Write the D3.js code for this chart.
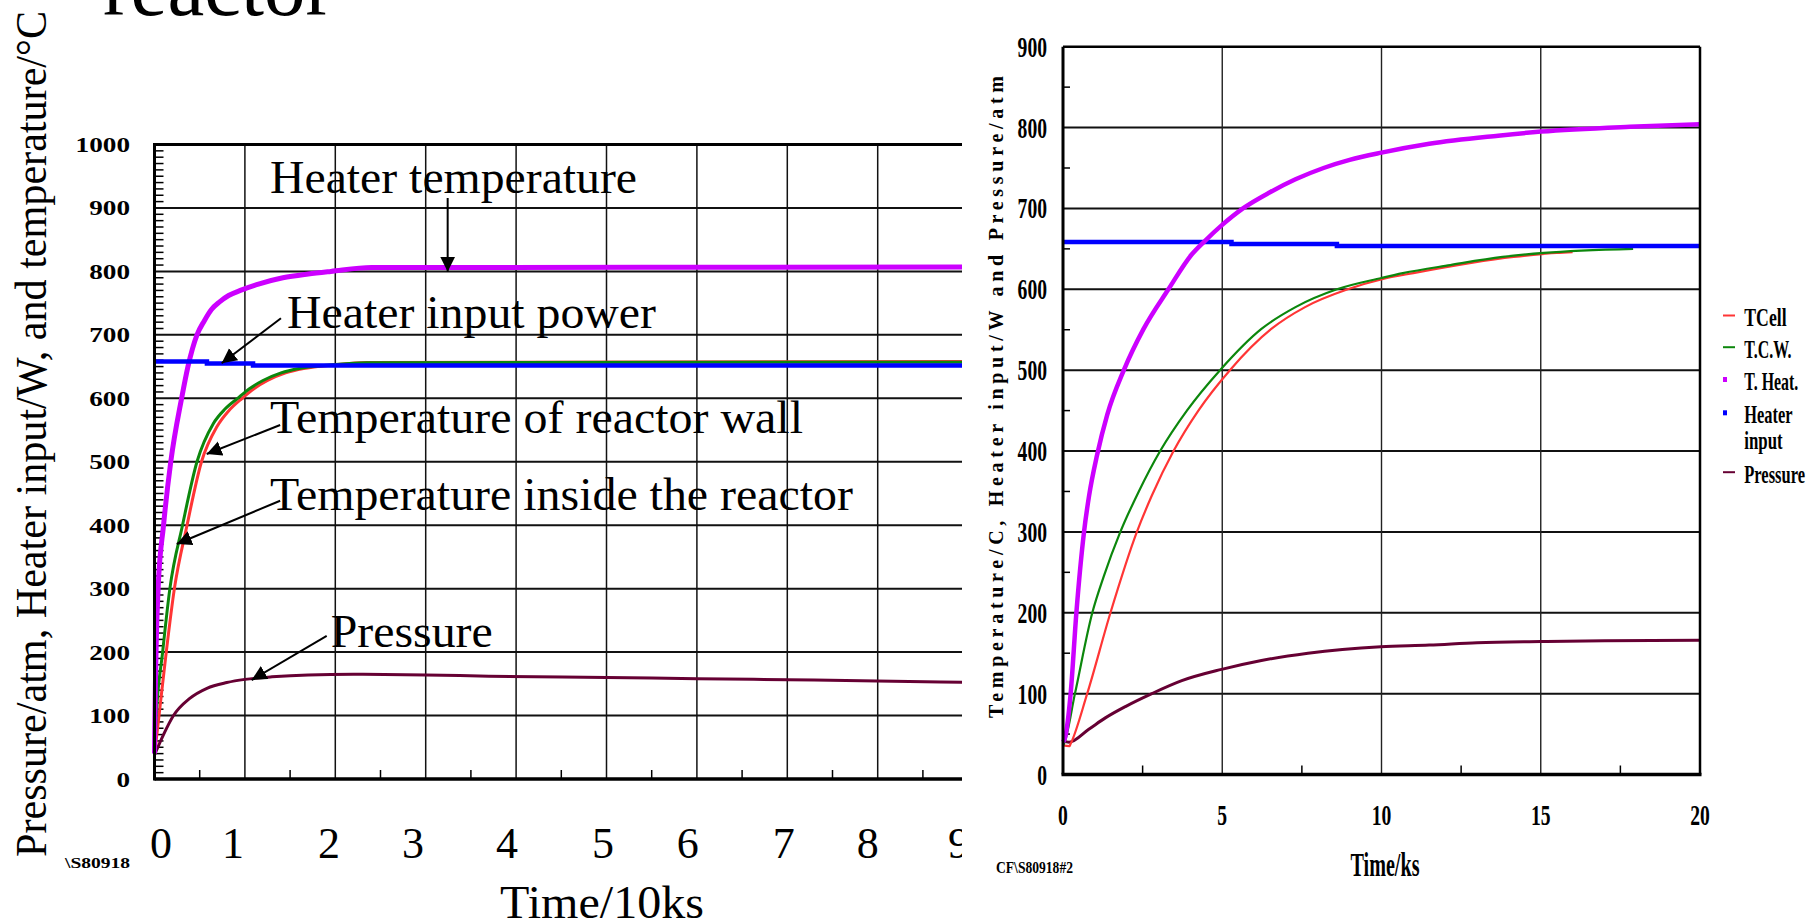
<!DOCTYPE html>
<html><head><meta charset="utf-8">
<script src="https://cdn.jsdelivr.net/npm/d3@7"></script>
<style>html,body{margin:0;padding:0;background:#fff;overflow:hidden}</style>
</head><body>
<svg id="c" width="1808" height="923" xmlns="http://www.w3.org/2000/svg"></svg>
<script>
// ================= DATA =================
// Left chart (x: Time / 10 ks, y: value)
const leftHeaterTemp = [[0,40],[0.01,150],[0.02,220],[0.04,300],[0.10,400],[0.18,500],[0.30,600],[0.37,650],[0.47,700],[0.55,722],[0.63,740],[0.72,752],[0.82,762],[0.95,770],[1.15,780],[1.42,790],[1.7,796],[1.95,800],[2.4,806],[10,807]];
const leftHeaterInput = [[0,658],[0.58,655],[1.09,651.5],[10,651.5]];
const leftWallTemp = [[0,38],[0.02,100],[0.09,200],[0.17,300],[0.31,400],[0.47,500],[0.65,560],[0.78,583],[0.92,600],[1.05,615],[1.2,628],[1.4,640],[1.6,647],[1.9,652],[2.35,656],[10,657]];
const leftCellTemp = [[0,38],[0.05,100],[0.13,200],[0.22,300],[0.36,400],[0.52,500],[0.69,555],[0.82,580],[0.97,600],[1.1,615],[1.25,628],[1.45,640],[1.65,647],[1.95,652],[2.35,656.5],[10,658]];
const leftPressure = [[0,38],[0.1,70],[0.21,100],[0.39,127],[0.58,143],[0.8,152],[1.0,157],[1.3,161],[1.7,164],[2.2,165],[3.0,164],[3.7,162],[5.0,160],[6.0,158],[7.3,156],[8.7,153],[10,151]];
const leftYTicks = [0,100,200,300,400,500,600,700,800,900,1000];
const leftXLabels = ['0','1','2','3','4','5','6','7','8','9'];
const leftXLabelAt = [0.072,0.868,1.93,2.86,3.90,4.96,5.90,6.96,7.89,8.90];
const leftAnnotations = [
  {text:'Heater temperature', tx:1.278, ty:924.0, w:367, from:[3.243,915.7], to:[3.243,799.5]},
  {text:'Heater input power', tx:1.466, ty:710.3, w:369, from:[1.399,726.1], to:[0.743,655.2]},
  {text:'Temperature of reactor wall', tx:1.278, ty:544.8, w:533, from:[1.39,557.9], to:[0.577,512.2]},
  {text:'Temperature inside the reactor', tx:1.278, ty:424.0, w:583, from:[1.39,438.6], to:[0.246,370.4]},
  {text:'Pressure', tx:1.95, ty:208.5, w:162, from:[1.905,225.4], to:[1.075,156.0]}
];

// Right chart (x: Time / ks, y: value)
const rightHeaterTemp = [[0,40],[0.06,45],[0.24,100],[0.42,200],[0.66,300],[0.82,345],[1.07,395],[1.39,445],[1.91,500],[2.53,551],[3.31,600],[4.04,643],[4.46,660],[4.98,679],[5.65,700],[6.5,720],[7.3,736],[8.18,750],[9.0,760],[10,769],[11.5,780],[13.66,790],[15,795],[17.8,801],[20,804]];
const rightHeaterInput = [[0,658.5],[5.29,656],[8.6,653.5],[20,653.5]];
const rightWallTemp = [[0,36],[0.03,38],[0.375,100],[0.92,200],[1.28,245],[1.80,300],[2.38,350],[3.05,400],[3.89,450],[4.93,500],[6.23,551],[7.3,578],[8.6,600],[10.0,614],[10.67,620],[12.16,630],[13.8,640],[15.1,645],[17.9,650]];
const rightCellTemp = [[0,36],[0.2,35],[0.24,38],[0.76,100],[1.49,200],[2.32,300],[2.79,345],[3.47,400],[4.25,450],[5.24,500],[6.54,551],[7.6,578],[8.94,600],[10.08,613],[11.0,620],[14.15,640],[15.5,645],[16.0,646]];
const rightPressure = [[0,42],[0.19,40],[0.81,56],[1.33,70],[1.96,84],[2.79,100],[3.73,116],[4.98,130],[6.23,141],[7.69,150],[9.98,158],[11.5,160],[13,163],[15,164.5],[17,165.5],[20,166]];
const rightYTicks = [0,100,200,300,400,500,600,700,800,900];
const rightXTicks = [0,5,10,15,20];
const legendLabels = [['TCell'],['T.C.W.'],['T. Heat.'],['Heater','input'],['Pressure']];

// ================= STYLE =================
const FONT = "'Liberation Serif','Times New Roman',Times,serif";
const C = {cell:'#ff3535', wall:'#0c870c', heat:'#cc00ff', input:'#0000ff', press:'#660033'};

const svg = d3.select('#c');
svg.append('rect').attr('width',1808).attr('height',923).attr('fill','#fff');
const defs = svg.append('defs');
defs.append('clipPath').attr('id','clipL').append('rect').attr('x',0).attr('y',0).attr('width',962).attr('height',923);
defs.append('marker').attr('id','ah').attr('markerUnits','userSpaceOnUse')
  .attr('markerWidth',16).attr('markerHeight',16).attr('refX',15).attr('refY',7.5)
  .attr('orient','auto').append('path').attr('d','M0,0 L15,7.5 L0,15 Z').attr('fill','#000');

function text(g, x, y, s, size, o={}) {
  const t = g.append('text').attr('x',x).attr('y',y).text(s)
    .attr('font-family',FONT).attr('font-size',size)
    .attr('font-weight',o.bold?'bold':'normal').attr('fill','#000')
    .attr('text-anchor',o.anchor||'start');
  if (o.len) t.attr('textLength',o.len).attr('lengthAdjust',o.adjust||'spacingAndGlyphs');
  if (o.rot) t.attr('transform',`rotate(${o.rot},${x},${y})`);
  return t;
}

// ================= LEFT CHART =================
const xL = d3.scaleLinear().domain([0,10]).range([154.5,1058.5]);
const yL = d3.scaleLinear().domain([0,1000]).range([779,144.5]);
const gL = svg.append('g').attr('clip-path','url(#clipL)');

gL.selectAll('.hgL').data(leftYTicks.filter(v=>v>0&&v<1000)).join('line')
  .attr('x1',xL(0)).attr('x2',xL(10)).attr('y1',d=>yL(d)).attr('y2',d=>yL(d))
  .attr('stroke','#111').attr('stroke-width',2);
gL.selectAll('.vgL').data(d3.range(1,10)).join('line')
  .attr('x1',d=>xL(d)).attr('x2',d=>xL(d)).attr('y1',yL(0)).attr('y2',yL(1000))
  .attr('stroke','#111').attr('stroke-width',1.5);
gL.selectAll('.myL').data(d3.range(10,1000,10).filter(v=>v%100!==0)).join('line')
  .attr('x1',xL(0)).attr('x2',xL(0)+9).attr('y1',d=>yL(d)).attr('y2',d=>yL(d))
  .attr('stroke','#000').attr('stroke-width',1.5);
gL.selectAll('.mxL').data(d3.range(0.5,10,1)).join('line')
  .attr('x1',d=>xL(d)).attr('x2',d=>xL(d)).attr('y1',yL(0)).attr('y2',yL(0)-9)
  .attr('stroke','#000').attr('stroke-width',1.5);

const lineL = d3.line().x(d=>xL(d[0])).y(d=>yL(d[1])).curve(d3.curveMonotoneX);
const stepL = d3.line().x(d=>xL(d[0])).y(d=>yL(d[1])).curve(d3.curveStepAfter);
gL.append('path').attr('d',lineL(leftPressure)).attr('fill','none').attr('stroke',C.press).attr('stroke-width',3);
gL.append('path').attr('d',lineL(leftCellTemp)).attr('fill','none').attr('stroke',C.cell).attr('stroke-width',3);
gL.append('path').attr('d',lineL(leftWallTemp)).attr('fill','none').attr('stroke',C.wall).attr('stroke-width',3);
gL.append('path').attr('d',lineL(leftHeaterTemp)).attr('fill','none').attr('stroke',C.heat).attr('stroke-width',5);
gL.append('path').attr('d',stepL(leftHeaterInput)).attr('fill','none').attr('stroke',C.input).attr('stroke-width',4.5);

// frame
gL.append('line').attr('x1',xL(0)).attr('x2',xL(10)).attr('y1',yL(1000)).attr('y2',yL(1000)).attr('stroke','#000').attr('stroke-width',3);
gL.append('line').attr('x1',xL(0)).attr('x2',xL(10)).attr('y1',yL(0)).attr('y2',yL(0)).attr('stroke','#000').attr('stroke-width',3.5);
gL.append('line').attr('x1',xL(0)).attr('x2',xL(0)).attr('y1',yL(0)+1.5).attr('y2',yL(1000)-1.5).attr('stroke','#000').attr('stroke-width',3);

// y tick labels
leftYTicks.forEach(v=>{
  const s = String(v);
  text(svg, 130, yL(v)+7.5, s, 22, {bold:true, anchor:'end', len:13.6*s.length});
});
// x labels (slide text)
leftXLabels.forEach((s,i)=>{
  text(gL, xL(leftXLabelAt[i]), 858, s, 44, {anchor:'middle'});
});

// annotations
leftAnnotations.forEach(a=>{
  text(gL, xL(a.tx), yL(a.ty), a.text, 46, {len:a.w});
  gL.append('line').attr('x1',xL(a.from[0])).attr('y1',yL(a.from[1]))
    .attr('x2',xL(a.to[0])).attr('y2',yL(a.to[1]))
    .attr('stroke','#000').attr('stroke-width',2).attr('marker-end','url(#ah)');
});

// titles
text(svg, 103, 15, 'reactor', 83, {len:230});
text(svg, 46, 857, 'Pressure/atm, Heater input/W, and temperature/°C', 44, {rot:-90, len:846});
text(svg, 65, 868, '\\S80918', 14, {bold:true, len:65});
text(svg, 500, 918, 'Time/10ks', 46, {len:204});

// ================= RIGHT CHART =================
const xR = d3.scaleLinear().domain([0,20]).range([1063,1700]);
const yR = d3.scaleLinear().domain([0,900]).range([774.5,46.7]);
const gR = svg.append('g');

gR.selectAll('.hgR').data(rightYTicks.filter(v=>v>0&&v<900)).join('line')
  .attr('x1',xR(0)).attr('x2',xR(20)).attr('y1',d=>yR(d)).attr('y2',d=>yR(d))
  .attr('stroke','#111').attr('stroke-width',2);
gR.selectAll('.vgR').data(rightXTicks.filter(v=>v>0&&v<20)).join('line')
  .attr('x1',d=>xR(d)).attr('x2',d=>xR(d)).attr('y1',yR(0)).attr('y2',yR(900))
  .attr('stroke','#222').attr('stroke-width',1.4);
gR.selectAll('.myR').data(d3.range(50,900,100)).join('line')
  .attr('x1',xR(0)).attr('x2',xR(0)+7).attr('y1',d=>yR(d)).attr('y2',d=>yR(d))
  .attr('stroke','#000').attr('stroke-width',1.5);
gR.selectAll('.mxR').data(d3.range(2.5,20,5)).join('line')
  .attr('x1',d=>xR(d)).attr('x2',d=>xR(d)).attr('y1',yR(0)).attr('y2',yR(0)-9)
  .attr('stroke','#000').attr('stroke-width',1.5);

const lineR = d3.line().x(d=>xR(d[0])).y(d=>yR(d[1])).curve(d3.curveMonotoneX);
const stepR = d3.line().x(d=>xR(d[0])).y(d=>yR(d[1])).curve(d3.curveStepAfter);
gR.append('path').attr('d',lineR(rightPressure)).attr('fill','none').attr('stroke',C.press).attr('stroke-width',3);
gR.append('path').attr('d',lineR(rightCellTemp)).attr('fill','none').attr('stroke',C.cell).attr('stroke-width',2.2);
gR.append('path').attr('d',lineR(rightWallTemp)).attr('fill','none').attr('stroke',C.wall).attr('stroke-width',2.2);
gR.append('path').attr('d',stepR(rightHeaterInput)).attr('fill','none').attr('stroke',C.input).attr('stroke-width',4.5);
gR.append('path').attr('d',lineR(rightHeaterTemp)).attr('fill','none').attr('stroke',C.heat).attr('stroke-width',4.5);

// frame
gR.append('line').attr('x1',xR(0)).attr('x2',xR(20)).attr('y1',yR(900)).attr('y2',yR(900)).attr('stroke','#000').attr('stroke-width',2.5);
gR.append('line').attr('x1',xR(0)-1.5).attr('x2',xR(20)+1.5).attr('y1',yR(0)).attr('y2',yR(0)).attr('stroke','#000').attr('stroke-width',3.5);
gR.append('line').attr('x1',xR(0)).attr('x2',xR(0)).attr('y1',yR(0)).attr('y2',yR(900)).attr('stroke','#000').attr('stroke-width',3);
gR.append('line').attr('x1',xR(20)).attr('x2',xR(20)).attr('y1',yR(0)).attr('y2',yR(900)).attr('stroke','#000').attr('stroke-width',2.5);

rightYTicks.forEach(v=>{
  const s = String(v);
  text(svg, 1047, yR(v)+10, s, 29, {bold:true, anchor:'end', len:9.8*s.length});
});
rightXTicks.forEach(v=>{
  const s = String(v);
  text(svg, xR(v), 825, s, 29, {bold:true, anchor:'middle', len:9.8*s.length});
});

text(svg, 1385, 876, 'Time/ks', 33, {bold:true, anchor:'middle', len:69});
text(svg, 996, 873, 'CF\\S80918#2', 17, {bold:true, len:77});
text(svg, 1002.7, 718, 'Temperature/C, Heater input/W and Pressure/atm', 20, {bold:true, rot:-90, len:642, adjust:'spacing'});

// legend
const legColors = [C.cell, C.wall, C.heat, C.input, C.press];
const legKind = ['line','line','square','square','line'];
const legBase = [326, 357.7, 390, 423.3, 482.7];
const legLen = [[42.3],[47.3],[54],[48.3,38.3],[60.7]];
legendLabels.forEach((lines,i)=>{
  const my = legBase[i]-10.5;
  if (legKind[i]==='line') {
    svg.append('line').attr('x1',1723).attr('x2',1735).attr('y1',my).attr('y2',my)
      .attr('stroke',legColors[i]).attr('stroke-width',2);
  } else {
    svg.append('rect').attr('x',1723).attr('y',my-2.5).attr('width',4).attr('height',5).attr('fill',legColors[i]);
  }
  lines.forEach((s,j)=>{
    text(svg, 1744.3, legBase[i]+j*26, s, 26, {bold:true, len:legLen[i][j]});
  });
});
</script>
</body></html>
